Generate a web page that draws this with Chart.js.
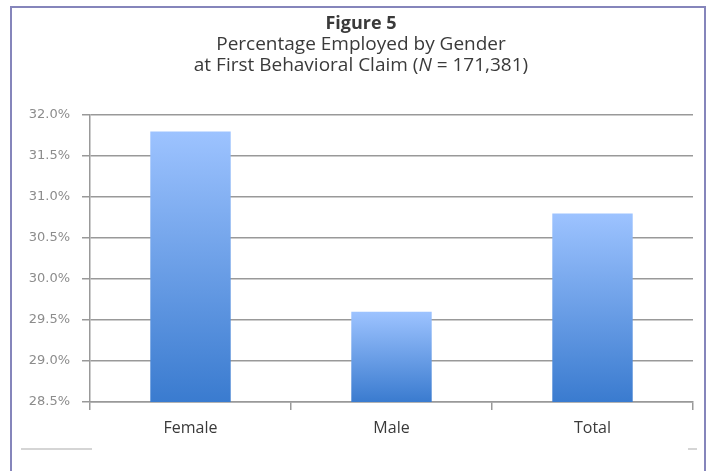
<!DOCTYPE html>
<html>
<head>
<meta charset="utf-8">
<script src="https://cdn.jsdelivr.net/npm/chart.js@4/dist/chart.umd.min.js"></script>
<style>
  html, body { margin: 0; padding: 0; background: #fff; }
  #wrap { position: relative; width: 713px; height: 471px; }
  #frame {
    position: absolute; left: 10px; top: 6px; width: 696px; height: 480px;
    border: 2px solid #8585bb; box-sizing: border-box;
  }
  canvas { position: absolute; left: 0; top: 0; }
</style>
</head>
<body>
<div id="wrap">
  <div id="frame"></div>
  <canvas id="chart" width="713" height="471"></canvas>
</div>
<script>
const categories = ['Female', 'Male', 'Total']
const employed = [31.8, 29.6, 30.8]
const yMin = 28.5
const yMax = 32.0
const yStep = 0.5

const titleText = 'Figure 5'
const subtitleText = 'Percentage Employed by Gender'
const subtitle2 = ['at First Behavioral Claim (', 'N', ' = 171,381)']

// titles and the odd little rules under the axis
const decor = {
  id: 'decor',
  afterDraw(chart) {
    const ctx = chart.ctx
    const cx = 361
    ctx.save()
    ctx.fillStyle = '#3a3a3a'
    ctx.textAlign = 'center'
    ctx.textBaseline = 'middle'
    ctx.font = 'bold 18px "Open Sans"'
    ctx.fillText(titleText, cx, 24)
    ctx.font = '19px "Open Sans"'
    ctx.fillText(subtitleText, cx, 45)

    // mixed style line (italic N)
    const fonts = ['19px "Open Sans"', 'italic 19px "Open Sans"', '19px "Open Sans"']
    let total = 0
    const widths = subtitle2.map((t, i) => { ctx.font = fonts[i]; const w = ctx.measureText(t).width; total += w; return w })
    let x = cx - total / 2
    ctx.textAlign = 'left'
    subtitle2.forEach((t, i) => {
      ctx.font = fonts[i]
      ctx.fillText(t, x, 66)
      x += widths[i]
    })

    ctx.strokeStyle = '#c8c8c8'
    ctx.lineWidth = 1.5
    ctx.beginPath()
    ctx.moveTo(21, 449); ctx.lineTo(92, 449)
    ctx.moveTo(688, 449); ctx.lineTo(697, 449)
    ctx.stroke()
    ctx.restore()
  }
}

function barGradient(context) {
  const chart = context.chart
  const area = chart.chartArea
  if (!area) return '#6a9be0'
  const v = context.raw
  const top = chart.scales.y.getPixelForValue(v)
  const g = chart.ctx.createLinearGradient(0, top, 0, area.bottom)
  g.addColorStop(0, '#9dc3ff')
  g.addColorStop(1, '#3a7bcf')
  return g
}

new Chart(document.getElementById('chart'), {
  type: 'bar',
  plugins: [decor],
  data: {
    labels: categories,
    datasets: [{
      label: 'Employed',
      data: employed,
      backgroundColor: barGradient,
      borderWidth: 0,
      barPercentage: 0.4,
      categoryPercentage: 1.0
    }]
  },
  options: {
    responsive: false,
    animation: false,
    layout: { padding: { top: 115, right: 20, left: 0, bottom: 0 } },
    plugins: {
      legend: { display: false },
      tooltip: { enabled: false }
    },
    scales: {
      x: {
        grid: { drawOnChartArea: false, tickLength: 8, color: '#999', lineWidth: 1.5 },
        border: { color: '#999', width: 1.5 },
        ticks: { color: '#3a3a3a', font: { family: 'Open Sans', size: 16 }, padding: 9 },
        afterFit(scale) { scale.height = 69 }
      },
      y: {
        min: yMin,
        max: yMax,
        grid: { color: '#999', lineWidth: 1.5, tickLength: 8 },
        border: { color: '#999', width: 1.5 },
        ticks: {
          stepSize: yStep,
          color: '#8c8c8c',
          padding: 12,
          font: { family: 'DejaVu Sans', size: 13 },
          callback: v => v.toFixed(1) + '%'
        },
        afterFit(scale) { scale.width = 90 }
      }
    }
  }
})
</script>
</body>
</html>
